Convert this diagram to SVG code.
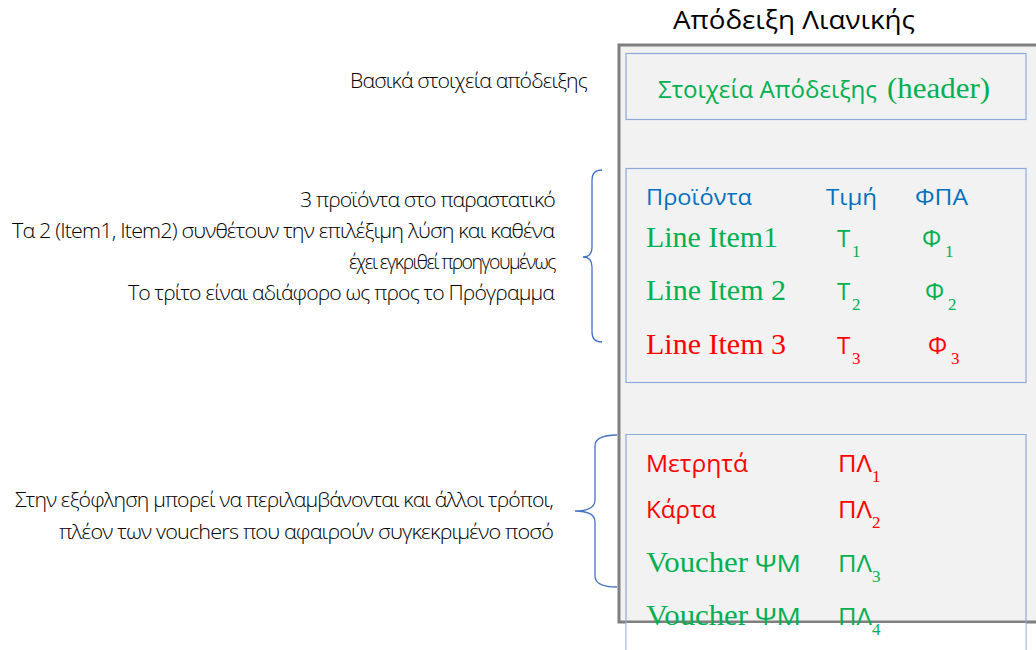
<svg xmlns="http://www.w3.org/2000/svg" width="1036" height="650" viewBox="0 0 1036 650">
<style>
.note{font-family:"Open Sans","Liberation Sans",sans-serif;font-weight:300;font-size:20px;fill:#000000;text-anchor:end;letter-spacing:-0.8px}
.tight{letter-spacing:-1.6px;font-size:19.5px}
.sans{font-family:"Open Sans","Liberation Sans",sans-serif}
.serif{font-family:"Liberation Serif","DejaVu Serif",serif}
.g{fill:#00b050}
.r{fill:#ff0000}
.b{fill:#0070c0}
.sub{font-family:"Liberation Serif","DejaVu Serif",serif;font-size:17px}
.box{fill:none;stroke:#8eaadb;stroke-width:1.2}
.brace{fill:none;stroke:#4472c4;stroke-width:1.3}
</style>
<rect width="1036" height="650" fill="#ffffff"/>
<g id="title">
<text class="sans" x="673" y="29" font-size="26" fill="#000" textLength="242" lengthAdjust="spacingAndGlyphs">Απόδειξη Λιανικής</text>
</g>
<g id="receipt">
<rect x="619" y="45" width="430" height="577" fill="#f2f2f2" stroke="#7f7f7f" stroke-width="3"/>
</g>
<g id="header">
<rect class="box" x="626" y="53.5" width="400" height="66"/>
<text class="sans g" x="658" y="98" font-size="24" textLength="219" lengthAdjust="spacingAndGlyphs">Στοιχεία Απόδειξης</text>
<text class="serif g" x="887" y="98" font-size="29" textLength="103" lengthAdjust="spacingAndGlyphs">(header)</text>
</g>
<g id="products">
<rect class="box" x="626" y="168.5" width="400" height="214"/>
<text class="sans b" x="646" y="205" font-size="22" textLength="106" lengthAdjust="spacingAndGlyphs">Προϊόντα</text>
<text class="sans b" x="826" y="205" font-size="22" textLength="51" lengthAdjust="spacingAndGlyphs">Τιμή</text>
<text class="sans b" x="915" y="205" font-size="22" textLength="53" lengthAdjust="spacingAndGlyphs">ΦΠΑ</text>
<text class="serif g" x="646" y="246.5" font-size="30" textLength="132" lengthAdjust="spacingAndGlyphs">Line Item1</text>
<text class="sans g" x="837" y="246.5" font-size="24">Τ</text><text class="sub g" x="852" y="256.5">1</text>
<text class="sans g" x="922" y="246.5" font-size="24">Φ</text><text class="sub g" x="945" y="256.5">1</text>
<text class="serif g" x="646" y="299.5" font-size="30" textLength="140" lengthAdjust="spacingAndGlyphs">Line Item 2</text>
<text class="sans g" x="837" y="299.5" font-size="24">Τ</text><text class="sub g" x="852" y="309.5">2</text>
<text class="sans g" x="925" y="299.5" font-size="24">Φ</text><text class="sub g" x="948" y="309.5">2</text>
<text class="serif r" x="646" y="353.5" font-size="30" textLength="140" lengthAdjust="spacingAndGlyphs">Line Item 3</text>
<text class="sans r" x="837" y="353.5" font-size="24">Τ</text><text class="sub r" x="852" y="363.5">3</text>
<text class="sans r" x="928" y="353.5" font-size="24">Φ</text><text class="sub r" x="951" y="363.5">3</text>
</g>
<g id="payments">
<path class="box" d="M626,660 V434.5 H1026 V660"/>
<rect x="626.6" y="623" width="398.8" height="30" fill="#ffffff"/>
<text class="sans r" x="646" y="472" font-size="24" textLength="102" lengthAdjust="spacingAndGlyphs">Μετρητά</text>
<text class="sans r" x="838" y="472" font-size="24" textLength="34" lengthAdjust="spacingAndGlyphs">ΠΛ</text><text class="sub r" x="872" y="482">1</text>
<text class="sans r" x="646" y="518" font-size="24" textLength="70" lengthAdjust="spacingAndGlyphs">Κάρτα</text>
<text class="sans r" x="838" y="518" font-size="24" textLength="34" lengthAdjust="spacingAndGlyphs">ΠΛ</text><text class="sub r" x="872" y="528">2</text>
<text class="serif g" x="646" y="571.5" font-size="30" textLength="102" lengthAdjust="spacingAndGlyphs">Voucher</text>
<text class="sans g" x="755" y="571.5" font-size="24" textLength="46" lengthAdjust="spacingAndGlyphs">ΨΜ</text>
<text class="sans g" x="838" y="571.5" font-size="24" textLength="34" lengthAdjust="spacingAndGlyphs">ΠΛ</text><text class="sub g" x="872" y="581.5">3</text>
<text class="serif g" x="646" y="625" font-size="30" textLength="102" lengthAdjust="spacingAndGlyphs">Voucher</text>
<text class="sans g" x="755" y="625" font-size="24" textLength="46" lengthAdjust="spacingAndGlyphs">ΨΜ</text>
<text class="sans g" x="838" y="625" font-size="24" textLength="34" lengthAdjust="spacingAndGlyphs">ΠΛ</text><text class="sub g" x="872" y="635">4</text>
</g>
<g id="notes">
<text class="note" x="587" y="88" textLength="237" lengthAdjust="spacingAndGlyphs">Βασικά στοιχεία απόδειξης</text>
<text class="note" x="555" y="207" textLength="255" lengthAdjust="spacingAndGlyphs">3 προϊόντα στο παραστατικό</text>
<text class="note" x="554" y="238" textLength="542" lengthAdjust="spacingAndGlyphs">Τα 2 (Item1, Item2) συνθέτουν την επιλέξιμη λύση και καθένα</text>
<text class="note tight" x="555" y="269">έχει εγκριθεί προηγουμένως</text>
<text class="note" x="554" y="300" textLength="426" lengthAdjust="spacingAndGlyphs">Το τρίτο είναι αδιάφορο ως προς το Πρόγραμμα</text>
<text class="note" x="553" y="507" textLength="538" lengthAdjust="spacingAndGlyphs">Στην εξόφληση μπορεί να περιλαμβάνονται και άλλοι τρόποι,</text>
<text class="note" x="553" y="539" textLength="494" lengthAdjust="spacingAndGlyphs">πλέον των vouchers που αφαιρούν συγκεκριμένο ποσό</text>
</g>
<g id="connectors">
<path class="brace" d="M602,170 Q592,170 592,180 L592,247 Q592,257 583,257 Q592,257 592,267 L592,332 Q592,342 602,342"/>
<path class="brace" d="M617,435 Q595,435 595,446 L595,500 Q595,511 575,511 Q595,511 595,522 L595,576 Q595,587 617,587"/>
</g>
</svg>
